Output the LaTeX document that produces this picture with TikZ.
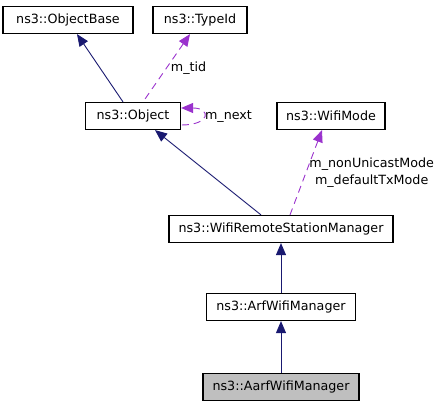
\documentclass[tikz,border=0pt]{standalone}
\usepackage{fontspec}
\setmainfont{DejaVu Sans}
\usetikzlibrary{arrows.meta}
\definecolor{inh}{HTML}{191970}
\definecolor{use}{HTML}{9A32CD}
\definecolor{cur}{HTML}{BFBFBF}

\begin{document}
\begin{tikzpicture}[x=1pt,y=-1pt]
        \tikzstyle{cls}=[rectangle,draw,line width=1.2pt,minimum height=27pt,inner sep=0pt,font=\fontsize{12.7}{15}\selectfont]
        \tikzstyle{isa}=[{Triangle[length=12pt,width=10pt]}-,inh,line width=0.9pt]
        \tikzstyle{uses}=[{Triangle[length=12pt,width=10pt]}-,use,line width=0.9pt,dash pattern=on 7pt off 5pt]
        \tikzstyle{lbl}=[black,inner sep=1pt,align=center,font=\fontsize{12.7}{17}\selectfont]
        \useasboundingbox (0,0) rectangle (447,408);
        \node[cls,minimum width=130pt] (objbase) at (68,20) {ns3::ObjectBase};
        \node[cls,minimum width=94pt] (typeid) at (200,20) {ns3::TypeId};
        \node[cls,minimum width=95pt] (object) at (133,116) {ns3::Object};
        \node[cls,minimum width=108pt] (wifimode) at (331,116) {ns3::WifiMode};
        \node[cls,minimum width=224pt] (remote) at (281,229) {ns3::WifiRemoteStationManager};
        \node[cls,minimum width=149pt] (arf) at (281,307) {ns3::ArfWifiManager};
        \node[cls,minimum width=156pt,fill=cur] (aarf) at (281,387) {ns3::AarfWifiManager};
        \draw[isa] ([xshift=9pt]objbase.south) -- ([xshift=-10pt]object.north);
        \draw[uses] ([xshift=-10pt]typeid.south) -- ([xshift=10pt]object.north)
          node[lbl,pos=0.5,right=3pt] {m\_tid};
        \draw[uses] ([yshift=8pt]object.east) .. controls +(30,0) and +(30,0) .. ([yshift=-9pt]object.east)
          node[lbl,pos=0.5,right] {m\_next};
        \draw[isa] ([xshift=22pt]object.south) -- ([xshift=-20pt]remote.north);
        \draw[uses] ([xshift=-9pt]wifimode.south) -- ([xshift=9pt]remote.north)
          node[lbl,pos=0.5,right=2pt] {m\_nonUnicastMode\\m\_defaultTxMode};
        \draw[isa] (remote) -- (arf);
        \draw[isa] (arf) -- (aarf);
\end{tikzpicture}
\end{document}
